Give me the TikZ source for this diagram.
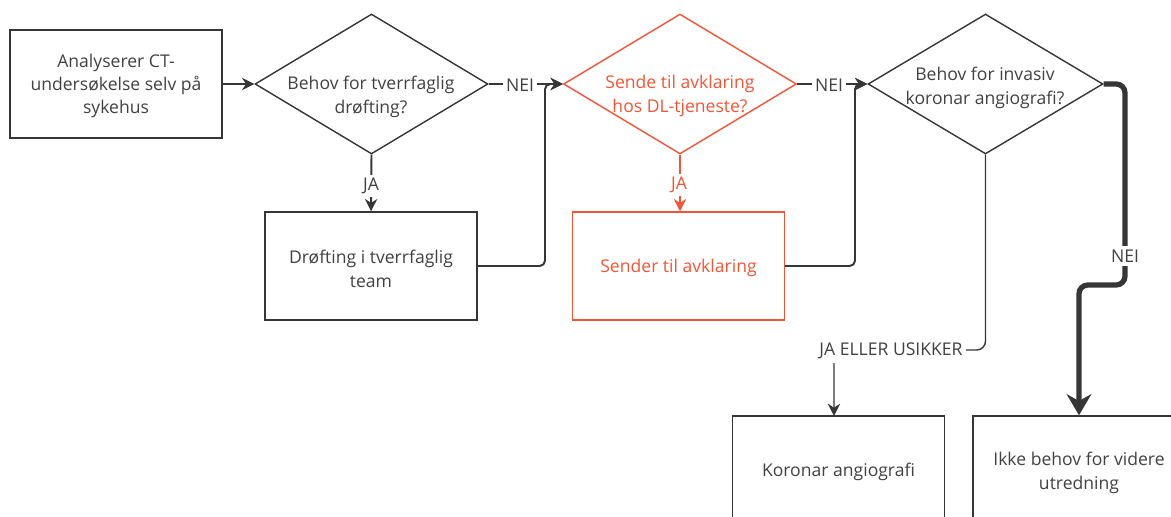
\documentclass[tikz,border=0pt]{standalone}
\usepackage{fontspec}
\setmainfont{Open Sans}
\usetikzlibrary{arrows.meta,shapes.geometric}
\definecolor{ink}{HTML}{363636}
\definecolor{txt}{HTML}{414141}
\definecolor{alert}{HTML}{F05537}

\begin{document}
\begin{tikzpicture}[x=0.02cm,y=-0.02cm,
  every node/.style={font=\fontsize{10}{13.3}\selectfont, text=txt},
  stepbox/.style={draw=ink, line width=0.85pt, minimum width=4.24cm, minimum height=2.16cm, inner sep=0},
  choice/.style={draw=ink, line width=0.8pt, diamond, minimum width=4.66cm, minimum height=2.8cm, inner sep=0},
  ctext/.style={align=center, inner sep=0},
  lbl/.style={fill=white, inner sep=2pt},
  link/.style={draw=ink, line width=1.1pt, rounded corners=3pt, -{Stealth[length=7pt,width=7pt]}},
  heavy/.style={draw=ink, line width=3pt, rounded corners=5pt, -{Stealth[length=12pt,width=14pt]}},
]
\useasboundingbox (0,0) rectangle (1171,517);
\clip (0,0) rectangle (1171,517);

% process boxes
\node[stepbox] (b1) at (116,84) {};
\node[ctext] (b1t) at (116,86) {Analyserer CT-\\undersøkelse selv på\\sykehus};
\node[stepbox] (b2) at (371,266) {};
\node[ctext] (b2t) at (371,269) {Drøfting i tverrfaglig\\team};
\node[stepbox, draw=alert] (b3) at (678.5,266) {};
\node[ctext, text=alert] (b3t) at (678.5,268) {Sender til avklaring};
\node[stepbox] (b4) at (838.5,470) {};
\node[ctext] (b4t) at (838.5,472) {Koronar angiografi};
\node[stepbox] (b5) at (1079,470) {};
\node[ctext] (b5t) at (1079,473) {Ikke behov for videre\\utredning};

% decisions
\node[choice] (d1) at (371.5,84) {};
\node[ctext] (d1t) at (371,97) {Behov for tverrfaglig\\drøfting?};
\node[choice, draw=alert] (d2) at (680,84) {};
\node[ctext, text=alert] (d2t) at (680,96) {Sende til avklaring\\hos DL-tjeneste?};
\node[choice, minimum width=4.7cm] (d3) at (985.5,84) {};
\node[ctext] (d3t) at (985,88) {Behov for invasiv\\koronar angiografi?};

% connectors
\draw[link] (b1.east) -- (d1.west);
\draw[link] (d1.south) -- (b2.north);
\node[lbl] (l1) at (371,186) {JA};

\draw[link] (d1.east) -- (d2.west);
\node[lbl] (l2) at (520,85) {NEI};
\draw[link] (b2.east) -- (545,266) -- (545,84) -- (d2.west);

\draw[link, draw=alert, color=alert] (d2.south) -- (d2.south |- b3.north);
\node[lbl, text=alert] (l3) at (679,185) {JA};

\draw[link] (d2.east) -- (d3.west);
\node[lbl] (l4) at (829,85) {NEI};
\draw[link] (b3.east) -- (855,266) -- (855,84) -- (d3.west);

\coordinate (b4in) at (834,416);
\draw[link, line width=0.8pt, rounded corners=5pt] (d3.south) -- (985.5,350) -- (834,350) -- (b4in);
\node[lbl] (l5) at (891,351) {JA ELLER USIKKER};

\draw[heavy] (d3.east) -- (1125,84) -- (1125,285) -- (b5.north |- 0,285) -- (b5.north);
\node[lbl] (l6) at (1125,256) {NEI};
\end{tikzpicture}
\end{document}
